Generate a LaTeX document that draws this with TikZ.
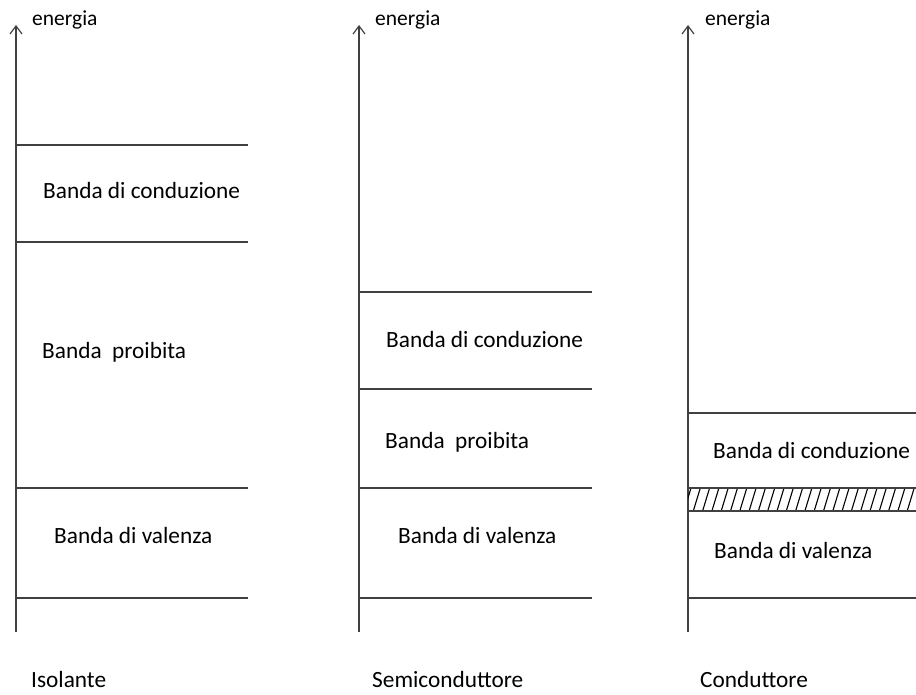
\documentclass[tikz,border=0pt]{standalone}
\usepackage{fontspec}
\setmainfont{Carlito}
\usetikzlibrary{arrows.meta}
\definecolor{linegray}{HTML}{404040}
\tikzset{
  axis/.style={draw=linegray, line width=1.3pt, -{Straight Barb[length=8pt,width=12pt,line width=1.2pt]}},
  band/.style={draw=linegray, line width=1.3pt},
  lbl/.style={anchor=base west, inner sep=0pt, font=\fontsize{23.3}{28}\selectfont, text=black},
  axlbl/.style={anchor=base west, inner sep=0pt, font=\fontsize{21.5}{26}\selectfont, text=black},
  hatch/.style={draw=black, line width=1.1pt}
}
\begin{document}
\begin{tikzpicture}[x=1pt,y=-1pt]
\useasboundingbox (0,0) rectangle (916,695);
% ---- Isolante
\coordinate (a1b) at (16,632); \coordinate (a1t) at (16,25);
\draw[axis] (a1b) -- (a1t);
\foreach \yy in {145,242,488,598} \draw[band] (16,\yy) -- (248,\yy);
\node[axlbl] (e1) at (32,26) {energia};
\node[lbl] (c1) at (43,199) {Banda di conduzione};
\node[lbl] (p1) at (42,358) {Banda\ \ proibita};
\node[lbl] (v1) at (54,543) {Banda di valenza};
\node[lbl] (n1) at (31,687) {Isolante};
% ---- Semiconduttore
\coordinate (a2b) at (359,632); \coordinate (a2t) at (359,25);
\draw[axis] (a2b) -- (a2t);
\foreach \yy in {292,389,488,598} \draw[band] (359,\yy) -- (592,\yy);
\node[axlbl] (e2) at (375,26) {energia};
\node[lbl] (c2) at (386,347) {Banda di conduzione};
\node[lbl] (p2) at (385,448) {Banda\ \ proibita};
\node[lbl] (v2) at (398,543) {Banda di valenza};
\node[lbl] (n2) at (372,687) {Semiconduttore};
% ---- Conduttore
\coordinate (a3b) at (688,632); \coordinate (a3t) at (688,25);
\draw[axis] (a3b) -- (a3t);
\begin{scope}
\clip (688,488) rectangle (916,511);
\foreach \xx in {684,693.3,...,920} \draw[hatch] (\xx,511) -- (\xx+7,488);
\end{scope}
\foreach \yy in {413,488,511,598} \draw[band] (688,\yy) -- (916,\yy);
\node[axlbl] (e3) at (705,26) {energia};
\node[lbl] (c3) at (713,458) {Banda di conduzione};
\node[lbl] (v3) at (714,558) {Banda di valenza};
\node[lbl] (n3) at (700,687) {Conduttore};
\end{tikzpicture}
\end{document}
